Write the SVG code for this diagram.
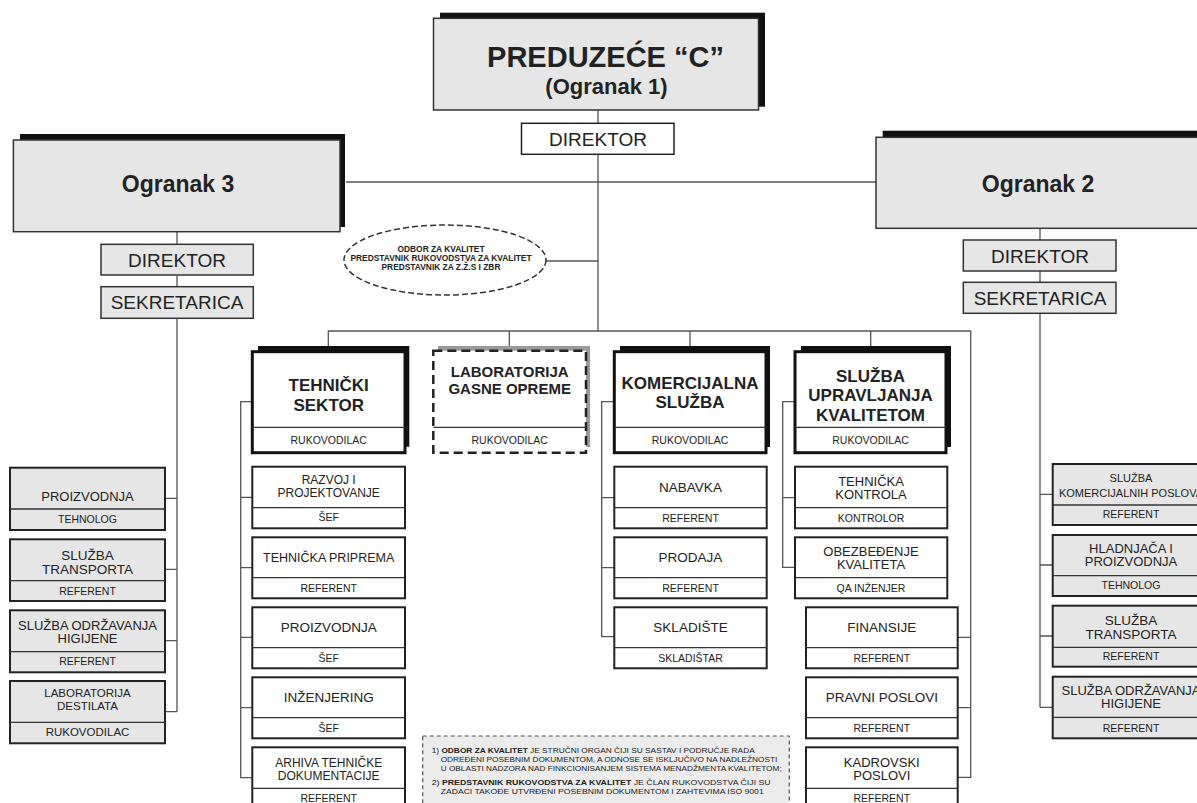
<svg xmlns="http://www.w3.org/2000/svg" width="1197" height="803" viewBox="0 0 1197 803">
<style>
text{font-family:"Liberation Sans",Arial,sans-serif;fill:#222;text-anchor:middle}
.b{font-weight:bold}
.conn{stroke:#555;stroke-width:1.3;fill:none}
.sh{fill:#111}
.big{fill:#e6e6e6;stroke:#333;stroke-width:1.5}
.hdr{fill:#fff;stroke:#111;stroke-width:3}
.sub{fill:#fff;stroke:#222;stroke-width:2}
.subg{fill:#e6e6e6;stroke:#222;stroke-width:2}
.dv{stroke:#333;stroke-width:1.3}
.s{font-size:10.5px}
.t13{font-size:13px}
.t135{font-size:13.5px}
.t12{font-size:12px}
.t11{font-size:11px}
.h17{font-size:17px;font-weight:bold}
</style>
<rect width="1197" height="803" fill="#fff"/>
<g id="connectors">
<path class="conn" d="M598 110V123M598 155V331M346 182H876M546 261H598"/>
<path class="conn" d="M177 232V244M177 276V287M177 318V711.7M165 498.3H177M165 569.3H177M165 640.7H177M165 711.7H177"/>
<path class="conn" d="M1040 228V240M1040 271V282M1040 313V707.3M1040 494.3H1052.7M1040 565H1052.7M1040 636H1052.7M1040 707.3H1052.7"/>
<path class="conn" d="M328.3 351.7V331H970.7V777.3H957.7M509.3 331V350.7M690 331V351.7M870.7 331V351.7"/>
<path class="conn" d="M252.3 401.7H240.7V777.7H252.3M240.7 497.3H252.3M240.7 567.7H252.3M240.7 637.3H252.3M240.7 707.7H252.3"/>
<path class="conn" d="M614.3 401.7H601.7V636.7H614.3M601.7 497.7H614.3M601.7 567.7H614.3"/>
<path class="conn" d="M795 401.7H782.7V567.3H795M782.7 497.7H795M957.7 637.3H970.7M957.7 707.7H970.7"/>
</g>
<g id="preduzece">
<rect class="sh" x="440" y="12.7" width="325" height="94"/>
<rect class="big" x="433.5" y="18.3" width="325" height="91.7"/>
<text class="b" x="605.5" y="66.7" font-size="29">PREDUZEĆE “C”</text>
<text class="b" x="606.5" y="94" font-size="22">(Ogranak 1)</text>
</g>
<g id="direktor1">
<rect x="521.5" y="123.3" width="152.5" height="31" fill="#fff" stroke="#222" stroke-width="1.5"/>
<text x="598" y="145.7" font-size="19">DIREKTOR</text>
</g>
<g id="ogranak3">
<rect class="sh" x="20" y="134" width="325" height="93"/>
<rect class="big" x="13.4" y="140" width="326.6" height="91.7"/>
<text class="b" x="178" y="191.7" font-size="23">Ogranak 3</text>
</g>
<g id="ogranak2">
<rect class="sh" x="882.7" y="130.7" width="330" height="92"/>
<rect class="big" x="876" y="137.3" width="330" height="91"/>
<text class="b" x="1038" y="191.7" font-size="23">Ogranak 2</text>
</g>
<g id="direktor3">
<rect class="big" x="101" y="244.3" width="152.3" height="30.7"/>
<text x="177" y="266.7" font-size="19">DIREKTOR</text>
</g>
<g id="sekretarica3">
<rect class="big" x="101" y="286.7" width="152.3" height="31.6"/>
<text x="177" y="309" font-size="19">SEKRETARICA</text>
</g>
<g id="direktor2">
<rect class="big" x="963.3" y="240" width="152.7" height="31"/>
<text x="1040" y="262.7" font-size="19">DIREKTOR</text>
</g>
<g id="sekretarica2">
<rect class="big" x="963.3" y="282.3" width="152.7" height="31"/>
<text x="1040" y="305" font-size="19">SEKRETARICA</text>
</g>
<g id="odbor">
<ellipse cx="445" cy="260" rx="101" ry="35" fill="#fff" stroke="#333" stroke-width="1.5" stroke-dasharray="6 3"/>
<text class="b" x="441" y="251.7" font-size="8.4">ODBOR ZA KVALITET</text>
<text class="b" x="441" y="261" font-size="8.4">PREDSTAVNIK RUKOVODSTVA ZA KVALITET</text>
<text class="b" x="441" y="270.3" font-size="8.4">PREDSTAVNIK ZA Z.Ž.S I ZBR</text>
</g>
<!-- Ogranak 3 column -->
<g id="o3-proizvodnja">
<rect class="subg" x="10" y="467.7" width="155" height="62.3"/><line class="dv" x1="10" y1="509" x2="165" y2="509"/>
<text class="t13" x="87.5" y="500.7">PROIZVODNJA</text><text class="s" x="87.5" y="523.3">TEHNOLOG</text>
</g>
<g id="o3-transport">
<rect class="subg" x="10" y="539.3" width="155" height="61.7"/><line class="dv" x1="10" y1="580.7" x2="165" y2="580.7"/>
<text x="87.5" y="560.2" font-size="13.5">SLUŽBA</text><text x="87.5" y="573.5" font-size="13.5">TRANSPORTA</text><text class="s" x="87.5" y="595">REFERENT</text>
</g>
<g id="o3-higijena">
<rect class="subg" x="10" y="610.3" width="155" height="62"/><line class="dv" x1="10" y1="651.7" x2="165" y2="651.7"/>
<text class="t13" x="87.5" y="630">SLUŽBA ODRŽAVANJA</text><text class="t13" x="87.5" y="643.3">HIGIJENE</text><text class="s" x="87.5" y="665">REFERENT</text>
</g>
<g id="o3-laboratorija">
<rect class="subg" x="10" y="681" width="155" height="62.3"/><line class="dv" x1="10" y1="722.3" x2="165" y2="722.3"/>
<text x="87.5" y="696.7" font-size="11.5">LABORATORIJA</text><text x="87.5" y="710" font-size="11.5">DESTILATA</text><text x="87.5" y="736" font-size="11.5">RUKOVODILAC</text>
</g>
<!-- Ogranak 2 column -->
<g id="o2-komercijalni">
<rect class="subg" x="1052.7" y="464" width="157" height="61"/><line class="dv" x1="1052.7" y1="505" x2="1210" y2="505"/>
<text class="t11" x="1131" y="482.3">SLUŽBA</text><text class="t11" x="1131" y="496.7">KOMERCIJALNIH POSLOVA</text><text class="s" x="1131" y="518.3">REFERENT</text>
</g>
<g id="o2-hladnjaca">
<rect class="subg" x="1052.7" y="535" width="157" height="61"/><line class="dv" x1="1052.7" y1="575.7" x2="1210" y2="575.7"/>
<text class="t13" x="1131" y="553.3">HLADNJAČA I</text><text class="t13" x="1131" y="566">PROIZVODNJA</text><text class="s" x="1131" y="589.3">TEHNOLOG</text>
</g>
<g id="o2-transport">
<rect class="subg" x="1052.7" y="605.7" width="157" height="61"/><line class="dv" x1="1052.7" y1="647.3" x2="1210" y2="647.3"/>
<text x="1131" y="624.5" font-size="13.5">SLUŽBA</text><text x="1131" y="638.5" font-size="13.5">TRANSPORTA</text><text class="s" x="1131" y="660">REFERENT</text>
</g>
<g id="o2-higijena">
<rect class="subg" x="1052.7" y="676.7" width="157" height="61.6"/><line class="dv" x1="1052.7" y1="717.3" x2="1210" y2="717.3"/>
<text class="t13" x="1131" y="695">SLUŽBA ODRŽAVANJA</text><text class="t13" x="1131" y="708.3">HIGIJENE</text><text class="s" x="1131" y="731.7">REFERENT</text>
</g>
<!-- Tehnicki sektor -->
<g id="tehnicki">
<rect class="sh" x="258" y="346" width="151.3" height="100.7"/>
<rect class="hdr" x="252.3" y="351.7" width="152.7" height="101"/><line class="dv" x1="252.3" y1="427.3" x2="405" y2="427.3"/>
<text class="h17" x="328.7" y="391">TEHNIČKI</text><text class="h17" x="328.7" y="411">SEKTOR</text><text class="s" x="328.7" y="444.3">RUKOVODILAC</text>
</g>
<g id="razvoj">
<rect class="sub" x="252.3" y="466.7" width="152.7" height="61.6"/><line class="dv" x1="252.3" y1="507.7" x2="405" y2="507.7"/>
<text class="t12" x="328.7" y="484.3">RAZVOJ I</text><text class="t12" x="328.7" y="496.7">PROJEKTOVANJE</text><text class="s" x="328.7" y="521">ŠEF</text>
</g>
<g id="priprema">
<rect class="sub" x="252.3" y="537.3" width="152.7" height="61"/><line class="dv" x1="252.3" y1="577.7" x2="405" y2="577.7"/>
<text x="328.7" y="561.7" font-size="12.5">TEHNIČKA PRIPREMA</text><text class="s" x="328.7" y="591.7">REFERENT</text>
</g>
<g id="proizvodnja">
<rect class="sub" x="252.3" y="607.3" width="152.7" height="61"/><line class="dv" x1="252.3" y1="647.7" x2="405" y2="647.7"/>
<text class="t135" x="328.7" y="632.3">PROIZVODNJA</text><text class="s" x="328.7" y="661.7">ŠEF</text>
</g>
<g id="inzenjering">
<rect class="sub" x="252.3" y="677.3" width="152.7" height="61"/><line class="dv" x1="252.3" y1="717.7" x2="405" y2="717.7"/>
<text class="t135" x="328.7" y="702.3">INŽENJERING</text><text class="s" x="328.7" y="731.7">ŠEF</text>
</g>
<g id="arhiva">
<rect class="sub" x="252.3" y="747.3" width="152.7" height="61"/><line class="dv" x1="252.3" y1="788.3" x2="405" y2="788.3"/>
<text class="t12" x="328.7" y="766.7">ARHIVA TEHNIČKE</text><text class="t12" x="328.7" y="780">DOKUMENTACIJE</text><text class="s" x="328.7" y="801.7">REFERENT</text>
</g>
<!-- Laboratorija -->
<g id="laboratorija">
<rect x="438" y="346" width="152" height="101" fill="#9a9a9a"/>
<rect x="433.3" y="350.7" width="152.7" height="102" fill="#fff" stroke="#222" stroke-width="2.5" stroke-dasharray="9 5"/>
<line x1="433.3" y1="427.3" x2="586" y2="427.3" stroke="#333" stroke-width="1.3"/>
<text class="b" x="509.7" y="376.7" font-size="15">LABORATORIJA</text><text class="b" x="509.7" y="394" font-size="15">GASNE OPREME</text><text class="s" x="509.7" y="444.3">RUKOVODILAC</text>
</g>
<!-- Komercijalna -->
<g id="komercijalna">
<rect class="sh" x="620" y="346" width="150" height="101"/>
<rect class="hdr" x="614.3" y="351.7" width="151.7" height="101"/><line class="dv" x1="614.3" y1="427.3" x2="766" y2="427.3"/>
<text class="h17" x="690" y="389.3">KOMERCIJALNA</text><text class="h17" x="690" y="408.3">SLUŽBA</text><text class="s" x="690" y="444.3">RUKOVODILAC</text>
</g>
<g id="nabavka">
<rect class="sub" x="614.3" y="466.7" width="152.4" height="61.6"/><line class="dv" x1="614.3" y1="507.7" x2="766.7" y2="507.7"/>
<text class="t135" x="690.5" y="491.7">NABAVKA</text><text class="s" x="690.5" y="521.7">REFERENT</text>
</g>
<g id="prodaja">
<rect class="sub" x="614.3" y="537.3" width="152.4" height="61"/><line class="dv" x1="614.3" y1="577.7" x2="766.7" y2="577.7"/>
<text class="t135" x="690.5" y="561.7">PRODAJA</text><text class="s" x="690.5" y="591.7">REFERENT</text>
</g>
<g id="skladiste">
<rect class="sub" x="614.3" y="607.3" width="152.4" height="61"/><line class="dv" x1="614.3" y1="647.7" x2="766.7" y2="647.7"/>
<text class="t135" x="690.5" y="632.3">SKLADIŠTE</text><text class="s" x="690.5" y="661.7">SKLADIŠTAR</text>
</g>
<!-- Sluzba upravljanja kvalitetom -->
<g id="kvalitet">
<rect class="sh" x="801" y="346" width="150" height="101"/>
<rect class="hdr" x="795" y="351.7" width="151" height="101"/><line class="dv" x1="795" y1="427.3" x2="946" y2="427.3"/>
<text class="h17" x="870.5" y="381.7">SLUŽBA</text><text class="h17" x="870.5" y="401">UPRAVLJANJA</text><text class="h17" x="870.5" y="420.7">KVALITETOM</text><text class="s" x="870.5" y="444.3">RUKOVODILAC</text>
</g>
<g id="kontrola">
<rect class="sub" x="795" y="466.7" width="152.3" height="61.6"/><line class="dv" x1="795" y1="507.7" x2="947.3" y2="507.7"/>
<text class="t13" x="871" y="485.7">TEHNIČKA</text><text class="t13" x="871" y="499">KONTROLA</text><text class="s" x="871" y="521.7">KONTROLOR</text>
</g>
<g id="obezbedjenje">
<rect class="sub" x="795" y="537.3" width="152.3" height="61"/><line class="dv" x1="795" y1="577.7" x2="947.3" y2="577.7"/>
<text class="t13" x="871" y="555.7">OBEZBEĐENJE</text><text class="t13" x="871" y="569">KVALITETA</text><text class="s" x="871" y="591.7">QA INŽENJER</text>
</g>
<g id="finansije">
<rect class="sub" x="806" y="607.3" width="151.7" height="61"/><line class="dv" x1="806" y1="647.7" x2="957.7" y2="647.7"/>
<text class="t135" x="881.8" y="632.3">FINANSIJE</text><text class="s" x="881.8" y="661.7">REFERENT</text>
</g>
<g id="pravni">
<rect class="sub" x="806" y="677.3" width="151.7" height="61"/><line class="dv" x1="806" y1="717.7" x2="957.7" y2="717.7"/>
<text class="t135" x="881.8" y="702.3">PRAVNI POSLOVI</text><text class="s" x="881.8" y="731.7">REFERENT</text>
</g>
<g id="kadrovski">
<rect class="sub" x="806" y="747.3" width="151.7" height="61"/><line class="dv" x1="806" y1="788.3" x2="957.7" y2="788.3"/>
<text class="t13" x="881.8" y="766.7">KADROVSKI</text><text class="t13" x="881.8" y="780">POSLOVI</text><text class="s" x="881.8" y="801.7">REFERENT</text>
</g>
<!-- Note -->
<g id="napomena">
<rect x="422.7" y="736" width="366.6" height="80" fill="#ececec" stroke="#555" stroke-width="1.2" stroke-dasharray="4 3"/>
<text x="431.7" y="752.7" font-size="8" textLength="323" lengthAdjust="spacingAndGlyphs" style="text-anchor:start">1) <tspan font-weight="bold">ODBOR ZA  KVALITET</tspan> JE STRUČNI ORGAN ČIJI SU SASTAV I PODRUČJE RADA</text>
<text x="440.7" y="761.7" font-size="8" textLength="336.6" lengthAdjust="spacingAndGlyphs" style="text-anchor:start">ODREĐENI POSEBNIM DOKUMENTOM, A ODNOSE SE ISKLJUČIVO NA NADLEŽNOSTI</text>
<text x="440.7" y="770.7" font-size="8" textLength="341" lengthAdjust="spacingAndGlyphs" style="text-anchor:start">U OBLASTI NADZORA NAD FINKCIONISANJEM SISTEMA MENADŽMENTA KVALITETOM;</text>
<text x="431.7" y="785" font-size="8" textLength="339" lengthAdjust="spacingAndGlyphs" style="text-anchor:start">2) <tspan font-weight="bold">PREDSTAVNIK RUKOVODSTVA ZA KVALITET</tspan> JE  ČLAN RUKOVODSTVA ČIJI SU</text>
<text x="440.7" y="794" font-size="8" textLength="323" lengthAdjust="spacingAndGlyphs" style="text-anchor:start">ZADACI TAKOĐE UTVRĐENI POSEBNIM DOKUMENTOM I ZAHTEVIMA ISO 9001</text>
</g>
</svg>
